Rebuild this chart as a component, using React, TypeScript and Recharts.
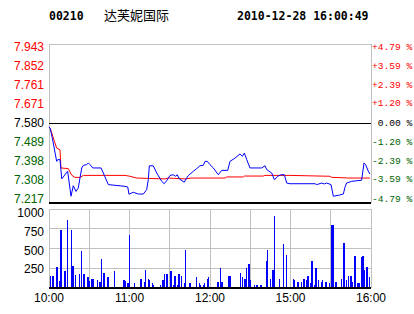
import { ComposedChart, Line, Bar, XAxis, YAxis, CartesianGrid, ReferenceLine } from 'recharts'

const prevClose = 7.58
const priceTicks = [7.217, 7.308, 7.398, 7.489, 7.58, 7.671, 7.761, 7.852, 7.943]
const pctLabels = ['-4.79 %', '-3.59 %', '-2.39 %', '-1.20 %', ' 0.00 %', '+1.20 %', '+2.39 %', '+3.59 %', '+4.79 %']
const timeTicks = [0, 30, 60, 90, 120, 150, 180, 210, 240]
const timeLabels = ['10:00', '', '11:00', '', '12:00', '', '15:00', '', '16:00']
const volTicks = [0, 250, 500, 750, 1000]

// minute index since open (10:00), last trade price
const tradeMinutes = [0, 1, 3.2, 5.7, 6.5, 8.2, 9.5, 13.9, 16.4, 18.1, 20.1, 21.8, 24.4, 25.6, 28.1, 29.3, 30.6, 32.6, 38.8, 40.5, 44.2, 56.6, 58.7, 59.6, 62.8, 66.6, 70.3, 72.8, 74, 74.8, 77.7, 80.3, 84, 85.9, 87.7, 90.2, 92.6, 94.4, 95.6, 97.1, 100.8, 102.6, 103.8, 107.6, 110.1, 112.5, 115, 116.3, 118, 120, 122.5, 126.2, 128.7, 133.2, 134.9, 138.6, 142.4, 144.1, 145.6, 147.4, 149.8, 158.5, 161, 162.3, 166, 168, 170.5, 172.9, 175.4, 177.2, 179.6, 198.3, 199.5, 203.3, 205.2, 207, 210.2, 211.9, 215.6, 219.4, 220.6, 221.8, 225.6, 233, 234.8, 236, 238, 239.2]
const tradePrices = [7.565, 7.556, 7.491, 7.407, 7.415, 7.415, 7.327, 7.362, 7.248, 7.296, 7.27, 7.285, 7.377, 7.389, 7.392, 7.4, 7.392, 7.377, 7.377, 7.354, 7.301, 7.293, 7.29, 7.257, 7.266, 7.258, 7.258, 7.278, 7.323, 7.387, 7.387, 7.354, 7.316, 7.305, 7.319, 7.343, 7.346, 7.339, 7.346, 7.327, 7.312, 7.331, 7.342, 7.362, 7.374, 7.387, 7.389, 7.407, 7.407, 7.392, 7.377, 7.346, 7.366, 7.366, 7.407, 7.422, 7.441, 7.43, 7.445, 7.415, 7.377, 7.377, 7.387, 7.369, 7.354, 7.323, 7.339, 7.346, 7.346, 7.308, 7.305, 7.305, 7.301, 7.308, 7.304, 7.308, 7.301, 7.248, 7.252, 7.258, 7.289, 7.308, 7.316, 7.321, 7.4, 7.392, 7.362, 7.349]

// average price
const avgMinutes = [0, 1, 4, 5.7, 8.2, 8.9, 14.4, 16.9, 19.4, 23.1, 25.6, 56.6, 60.4, 65.3, 86.5, 88.9, 101.4, 106.4, 131.2, 132.5, 144.9, 145.6, 159.7, 161, 179.6, 209.4, 210.7, 216.9, 223.1, 239.2]
const avgPrices = [7.564, 7.556, 7.499, 7.468, 7.46, 7.377, 7.374, 7.344, 7.334, 7.334, 7.343, 7.343, 7.339, 7.331, 7.327, 7.331, 7.327, 7.331, 7.331, 7.336, 7.336, 7.34, 7.34, 7.343, 7.343, 7.339, 7.334, 7.333, 7.331, 7.331]

const volMinutes = [1, 3, 6, 8, 9, 12, 14, 17, 18, 20, 23, 24, 26, 29, 30, 32, 33, 36, 38, 39, 41, 44, 49, 56, 57, 59, 60, 64, 68, 69, 71, 72, 74, 75, 77, 78, 83, 85, 86, 88, 91, 93, 94, 96, 97, 99, 101, 102, 105, 110, 112, 113, 115, 116, 118, 119, 126, 128, 129, 134, 135, 143, 144, 146, 147, 149, 150, 153, 155, 158, 162, 163, 165, 167, 168, 172, 175, 177, 182, 183, 185, 186, 188, 190, 192, 193, 195, 196, 198, 199, 201, 203, 204, 206, 207, 209, 211, 212, 214, 218, 220, 222, 223, 225, 226, 228, 230, 231, 233, 234, 235, 237, 239]
const volValues = [147, 147, 261, 84, 738, 219, 865, 738, 274, 160, 181, 472, 181, 143, 84, 118, 118, 105, 76, 371, 194, 143, 219, 105, 84, 63, 675, 67, 118, 118, 80, 232, 118, 105, 63, 33, 42, 105, 181, 181, 219, 42, 156, 42, 181, 156, 63, 485, 63, 143, 63, 42, 42, 63, 118, 143, 80, 253, 80, 156, 156, 194, 143, 118, 253, 308, 105, 42, 42, 42, 346, 485, 118, 232, 906, 118, 561, 422, 118, 105, 80, 72, 80, 118, 105, 156, 67, 337, 42, 257, 105, 80, 105, 80, 80, 67, 792, 792, 80, 118, 565, 105, 156, 156, 80, 409, 67, 67, 388, 409, 232, 270, 139]

const tradeRows = tradeMinutes.map((m, i) => ({ m, p: tradePrices[i] }))
const avgRows = avgMinutes.map((m, i) => ({ m, p: avgPrices[i] }))
const volRows = volMinutes.map((m, i) => ({ m, v: volValues[i] }))

const GRID = '#c0c0c0'
const GREEN = '#006400'
const sans = '"Liberation Sans", Arial, sans-serif'
const mono = '"Liberation Mono", "DejaVu Sans Mono", monospace'

function priceColor(v: number) {
  if (Math.abs(v - prevClose) < 0.0005) return '#000'
  return v > prevClose ? '#ff0000' : GREEN
}

function LeftPriceTick(props: any) {
  const { x, y, payload } = props
  const i = priceTicks.indexOf(payload.value)
  const off = -4 + i * 0.875
  return (
    <text x={x} y={y + off} textAnchor="end" dominantBaseline="central" fontSize={12} fontFamily={sans} fill={priceColor(payload.value)}>
      {payload.value.toFixed(3)}
    </text>
  )
}

function RightPctTick(props: any) {
  const { x, y, payload } = props
  const i = priceTicks.indexOf(payload.value)
  const off = -4 + i * 0.875
  return (
    <text x={x} y={y + off} textAnchor="start" dominantBaseline="central" fontSize={9.6} fontFamily={mono} fill={priceColor(payload.value)} style={{ whiteSpace: 'pre' }}>
      {pctLabels[i]}
    </text>
  )
}

function VolTick(props: any) {
  const { x, y, payload } = props
  if (payload.value === 0) return <g />
  const i = volTicks.indexOf(payload.value)
  return (
    <text x={x} y={y + i} textAnchor="end" dominantBaseline="central" fontSize={12} fontFamily={sans} fill="#000">
      {payload.value}
    </text>
  )
}

function TimeTick(props: any) {
  const { x, y, payload } = props
  const i = timeTicks.indexOf(payload.value)
  return (
    <text x={x} y={y} textAnchor="middle" dominantBaseline="central" fontSize={12} fontFamily={sans} fill="#000">
      {timeLabels[i]}
    </text>
  )
}

export default function App() {
  return (
    <div style={{ position: 'absolute', left: 0, top: 0, width: 414, height: 314, background: '#fff', overflow: 'hidden' }}>
      <div style={{ position: 'absolute', top: 8, left: 49, fontFamily: '"DejaVu Sans Mono", monospace', fontWeight: 'bold', fontSize: 11.5, lineHeight: '16px' }}>00210</div>
      <div style={{ position: 'absolute', top: 6, left: 104, fontFamily: '"Noto Sans CJK SC", sans-serif', fontSize: 13, lineHeight: '18px' }}>达芙妮国际</div>
      <div style={{ position: 'absolute', top: 8, left: 237, fontFamily: '"DejaVu Sans Mono", monospace', fontWeight: 'bold', fontSize: 11.5, lineHeight: '16px' }}>2010-12-28 16:00:49</div>

      <div style={{ position: 'absolute', top: 0, left: 0 }}>
        <ComposedChart width={414} height={210} margin={{ top: 44, right: 0, bottom: 7, left: 0 }}>
          <CartesianGrid stroke={GRID} strokeWidth={1} shapeRendering="crispEdges" />
          <XAxis xAxisId="t" dataKey="m" type="number" domain={[0, 240]} ticks={timeTicks} hide />
          <YAxis yAxisId="l" orientation="left" width={49} type="number" domain={[7.217, 7.943]} ticks={priceTicks} allowDataOverflow axisLine={false} tickLine={false} tickSize={3} tickMargin={2} tick={<LeftPriceTick />} interval={0} />
          <YAxis yAxisId="r" orientation="right" width={43} type="number" domain={[7.217, 7.943]} ticks={priceTicks} allowDataOverflow axisLine={false} tickLine={false} tickSize={1} tickMargin={0} tick={<RightPctTick />} interval={0} />
          <ReferenceLine xAxisId="t" yAxisId="l" y={prevClose} stroke="#000" strokeWidth={1} shapeRendering="crispEdges" />
          <ReferenceLine xAxisId="t" yAxisId="l" y={7.217} stroke="#000" strokeWidth={2} shapeRendering="crispEdges" />
          <Line xAxisId="t" yAxisId="l" data={avgRows} dataKey="p" type="linear" stroke="#ff0000" strokeWidth={1} dot={false} isAnimationActive={false} />
          <Line xAxisId="t" yAxisId="l" data={tradeRows} dataKey="p" type="linear" stroke="#0000ff" strokeWidth={1} dot={false} isAnimationActive={false} />
        </ComposedChart>
      </div>

      <div style={{ position: 'absolute', top: 200, left: 0 }}>
        <ComposedChart width={414} height={114} data={volRows} margin={{ top: 9, right: 43, bottom: 0, left: 0 }}>
          <CartesianGrid stroke={GRID} strokeWidth={1} shapeRendering="crispEdges" />
          <XAxis dataKey="m" type="number" domain={[0, 240]} ticks={timeTicks} interval={0} height={26} axisLine={false} tickLine={false} tickSize={4} tickMargin={6} tick={<TimeTick />} />
          <YAxis width={49} type="number" domain={[0, 1000]} ticks={volTicks} interval={0} axisLine={false} tickLine={false} tickSize={3} tickMargin={2} tick={<VolTick />} />
          <ReferenceLine y={0} stroke="#000" strokeWidth={1.5} shapeRendering="crispEdges" />
          <Bar dataKey="v" fill="#0000ff" barSize={1.3} shapeRendering="crispEdges" isAnimationActive={false} />
        </ComposedChart>
      </div>
    </div>
  )
}
